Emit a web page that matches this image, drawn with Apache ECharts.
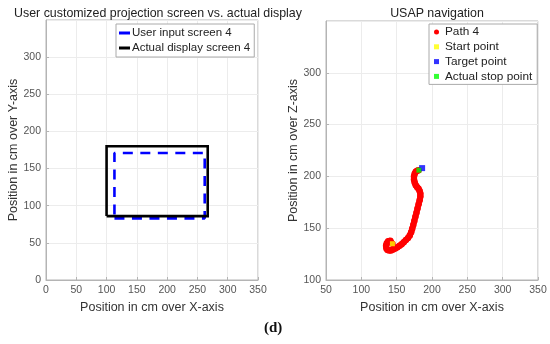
<!DOCTYPE html>
<html>
<head>
<meta charset="utf-8">
<script src="https://cdn.jsdelivr.net/npm/echarts@6/dist/echarts.min.js"></script>
<style>html,body{margin:0;padding:0;background:#fff}#c{width:550px;height:344px}</style>
</head>
<body>
<div id="c"></div>
<script>
// ---- data ----
const leftTicks = [0, 50, 100, 150, 200, 250, 300, 350];
const rightXTicks = [50, 100, 150, 200, 250, 300, 350];
const rightYTicks = [100, 150, 200, 250, 300, 350];
const userInputScreen = [[113, 83], [262, 83], [262, 171], [113, 171], [113, 83]];
const actualDisplayScreen = [[100, 86], [267, 86], [267, 180], [100, 180], [100, 86]];
const pathX = [144, 141, 138, 136, 135, 135.5, 137, 139.5, 142, 145, 148, 151, 154, 157, 160, 163, 166, 168.5, 170.5, 172, 173.5, 175, 176.5, 178, 179.5, 181, 182.5, 183.5, 183.5, 182.5, 181, 179, 177, 175.5, 174.5, 174.5, 175.5, 177, 179, 181];
const pathY = [135, 138, 137.5, 135.5, 133, 130.5, 129, 128.5, 128.5, 129.5, 130.5, 131.5, 133, 134.5, 136.5, 138.5, 140.5, 143, 146, 149.5, 153, 157, 161, 165, 169, 173, 177, 180.5, 183.5, 186, 188, 189.5, 191.5, 194, 197, 200, 202.5, 204.5, 205.5, 206];
const startPoint = [144, 135];
const targetPoint = [186, 208];
const stopPoint = [181.5, 206];

const pathData = pathX.map((x, i) => [x, pathY[i]]);

const tickColor = '#555';
const axisColor = '#b4b4b4';
const gridColor = '#ececec';
const font = 'Liberation Sans, Arial, sans-serif';

function mkAxis(isY, gridIndex, min, max, name, nameGap) {
  return {
    type: 'value', gridIndex, min, max, interval: 50,
    name, nameLocation: 'middle', nameGap,
    nameTextStyle: {color: '#333', fontSize: 12.5, fontFamily: font},
    axisLine: {show: true, lineStyle: {color: axisColor, width: 1}},
    axisTick: {show: true, inside: true, length: 3, lineStyle: {color: axisColor}},
    axisLabel: {color: tickColor, fontSize: 10.5, fontFamily: font, margin: 5, showMaxLabel: !isY},
    splitLine: {show: true, lineStyle: {color: gridColor, width: 1}}
  };
}

const chart = echarts.init(document.getElementById('c'));
chart.setOption({
  animation: false,
  backgroundColor: '#fff',
  title: [
    {text: 'User customized projection screen vs. actual display', left: 153, top: 3, textAlign: 'center',
     textStyle: {fontSize: 12.4, fontWeight: 'normal', color: '#222', fontFamily: font}},
    {text: 'USAP navigation', left: 432, top: 3, textAlign: 'center',
     textStyle: {fontSize: 12.4, fontWeight: 'normal', color: '#222', fontFamily: font}}
  ],
  grid: [
    {left: 46, top: 20, width: 212, height: 260, show: true, borderColor: axisColor, borderWidth: 1, backgroundColor: 'transparent'},
    {left: 326, top: 21, width: 212, height: 259, show: true, borderColor: axisColor, borderWidth: 1, backgroundColor: 'transparent'}
  ],
  xAxis: [
    mkAxis(false, 0, 0, 350, 'Position in cm over X-axis', 15),
    mkAxis(false, 1, 50, 350, 'Position in cm over X-axis', 15)
  ],
  yAxis: [
    mkAxis(true, 0, 0, 350, 'Position in cm over Y-axis', 22),
    mkAxis(true, 1, 100, 350, 'Position in cm over Z-axis', 22)
  ],
  legend: [
    {
      orient: 'vertical', left: 116, top: 24, padding: [3, 4, 3, 3], itemGap: 3,
      itemWidth: 11, itemHeight: 3, borderColor: '#aaa', borderWidth: 1, backgroundColor: '#fff',
      textStyle: {fontSize: 11.5, color: '#222', fontFamily: font, padding: [0, 0, 0, -3]},
      data: [
        {name: 'User input screen 4', icon: 'rect', itemStyle: {color: '#0000ff'}},
        {name: 'Actual display screen 4', icon: 'rect', itemStyle: {color: '#000'}}
      ]
    },
    {
      orient: 'vertical', left: 429, top: 24, padding: [2, 5, 2, 5], itemGap: 2.8,
      itemWidth: 5, itemHeight: 5, borderColor: '#aaa', borderWidth: 1, backgroundColor: '#fff',
      textStyle: {fontSize: 11.8, color: '#222', fontFamily: font, padding: [0, 0, 0, 1]},
      data: [
        {name: 'Path 4', icon: 'circle', itemStyle: {color: '#ff0000'}},
        {name: 'Start point', icon: 'rect', itemStyle: {color: '#ffff00'}},
        {name: 'Target point', icon: 'rect', itemStyle: {color: '#0000ff'}},
        {name: 'Actual stop point', icon: 'rect', itemStyle: {color: '#00ff00'}}
      ]
    }
  ],
  graphic: [
    {type: 'text', left: 264, top: 321, style: {text: '(d)', fontSize: 15, fontWeight: 'bold', fontFamily: 'Liberation Serif, Times New Roman, serif', fill: '#111'}}
  ],
  series: [
    {name: 'User input screen 4', type: 'line', xAxisIndex: 0, yAxisIndex: 0, data: userInputScreen,
     showSymbol: false, symbol: 'none', lineStyle: {color: '#0000ff', width: 2.6, type: [10, 7.5]}, itemStyle: {color: '#0000ff'}},
    {name: 'Actual display screen 4', type: 'line', xAxisIndex: 0, yAxisIndex: 0, data: actualDisplayScreen,
     showSymbol: false, symbol: 'none', lineStyle: {color: '#000', width: 2.6, join: 'miter'}, itemStyle: {color: '#000'}},
    {name: 'Path 4', type: 'line', xAxisIndex: 1, yAxisIndex: 1, data: pathData, z: 2,
     symbol: 'circle', symbolSize: 6.5, showAllSymbol: true, lineStyle: {color: '#ff0000', width: 6},
     itemStyle: {color: '#ff0000'}},
    {name: 'Start point', type: 'scatter', xAxisIndex: 1, yAxisIndex: 1, data: [startPoint], z: 10,
     symbol: 'rect', symbolSize: 5, itemStyle: {color: '#ffff00'}},
    {name: 'Target point', type: 'scatter', xAxisIndex: 1, yAxisIndex: 1, data: [targetPoint], z: 9,
     symbol: 'rect', symbolSize: 6, itemStyle: {color: '#0000ff'}},
    {name: 'Actual stop point', type: 'scatter', xAxisIndex: 1, yAxisIndex: 1, data: [stopPoint], z: 10,
     symbol: 'rect', symbolSize: 5, itemStyle: {color: '#00ff00'}}
  ]
});
</script>
</body>
</html>
